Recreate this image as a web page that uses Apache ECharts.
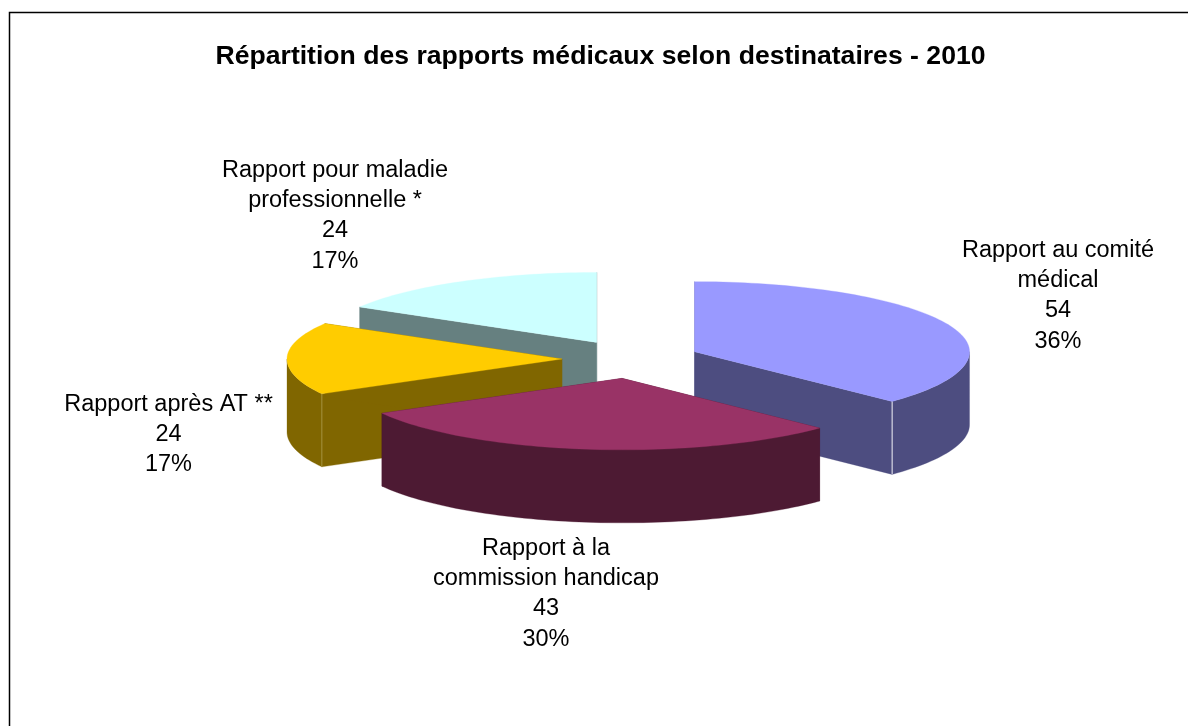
<!DOCTYPE html>
<html>
<head>
<meta charset="utf-8">
<style>html,body{margin:0;padding:0;background:#fff}#chart{width:1188px;height:726px}</style>
<script src="https://cdn.jsdelivr.net/npm/echarts@6/dist/echarts.min.js"></script>
</head>
<body>
<div id="chart"></div>
<script>
// Data
const categories = ['Rapport au comité\nmédical', 'Rapport à la\ncommission handicap', 'Rapport après AT **', 'Rapport pour maladie\nprofessionnelle *'];
const values = [54, 43, 24, 24];
const percentLabels = ['36%', '30%', '17%', '17%'];
const titleText = 'Répartition des rapports médicaux selon destinataires - 2010';

// Style
const topColors = ['#9999ff', '#993366', '#ffcc00', '#ccffff'];
const wallColors = ['#4d4d80', '#4d1a33', '#806600', '#668080'];
const seamColors = ['#f0f0f6', null, '#a3903a', null];
const labelAnchors = [[1058, 235], [546, 533], [168.5, 389], [335, 155]];

// Projection of the exploded pie
const cx = 631, cy = 359.2, rx = 275, ryBack = 70, ryFront = 71.5, depth = 73, explode = 69, explodeSquash = 0.28;
const total = values.reduce((a, b) => a + b, 0);
const DEG = Math.PI / 180;
let acc = 0;
const slices = values.map((v, i) => {
  const start = acc / total * 360; acc += v; const end = acc / total * 360;
  const mid = (start + end) / 2 * DEG;
  return { index: i, value: v, start, end,
    ox: cx + explode * Math.sin(mid), oy: cy - explode * explodeSquash * Math.cos(mid) };
});
const drawOrder = slices.slice().sort((a, b) => a.oy - b.oy);

function rimPoint(s, deg, drop) {
  const c = Math.cos(deg * DEG);
  return [s.ox + rx * Math.sin(deg * DEG), s.oy - (c < 0 ? ryFront : ryBack) * c + drop];
}
function arc(s, a, b, drop) {
  const n = Math.max(2, Math.ceil(Math.abs(b - a) / 1.5)), pts = [];
  for (let k = 0; k <= n; k++) pts.push(rimPoint(s, a + (b - a) * k / n, drop));
  return pts;
}
function poly(points, fill) {
  return { type: 'polygon', shape: { points }, style: { fill, stroke: fill, lineWidth: 0.3 }, silent: true };
}
function renderSlice(params, api) {
  const s = drawOrder[params.dataIndex];
  const wall = wallColors[s.index];
  const kids = [];
  const apex = [s.ox, s.oy], apexLow = [s.ox, s.oy + depth];
  // radial cut faces
  [s.start, s.end].forEach(a => {
    kids.push(poly([apex, rimPoint(s, a, 0), rimPoint(s, a, depth), apexLow], wall));
  });
  // outer wall: the front half of the rim only
  const a0 = Math.max(s.start, 90), a1 = Math.min(s.end, 270);
  if (a1 > a0) {
    kids.push(poly(arc(s, a0, a1, 0).concat(arc(s, a1, a0, depth)), wall));
    const seam = seamColors[s.index];
    if (seam) {
      const at = s.end < 180 ? s.end : s.start;
      const p = rimPoint(s, at, 0), q = rimPoint(s, at, depth);
      kids.push({ type: 'line', shape: { x1: p[0], y1: p[1], x2: q[0], y2: q[1] },
        style: { stroke: seam, lineWidth: 1 }, silent: true });
    }
  }
  // top face
  kids.push(poly([apex].concat(arc(s, s.start, s.end, 0)), topColors[s.index]));
  return { type: 'group', children: kids };
}
function renderLabel(params, api) {
  const i = params.dataIndex;
  return { type: 'text', silent: true,
    style: { text: categories[i] + '\n' + values[i] + '\n' + percentLabels[i],
      x: labelAnchors[i][0], y: labelAnchors[i][1], align: 'center', verticalAlign: 'top',
      fill: '#000', font: '23.5px "Liberation Sans"', lineHeight: 30.3 } };
}

const chart = echarts.init(document.getElementById('chart'), null, { renderer: 'canvas' });
chart.setOption({
  animation: false,
  backgroundColor: '#ffffff',
  title: { text: titleText, left: 595.5, top: 38, textAlign: 'center',
    textStyle: { fontFamily: 'Liberation Sans', fontSize: 26.6, fontWeight: 'bold', color: '#000' } },
  graphic: [{ type: 'polyline', silent: true,
    shape: { points: [[9.5, 726], [9.5, 12.5], [1188, 12.5]] },
    style: { fill: 'none', stroke: '#000', lineWidth: 1.5 } }],
  series: [
    { type: 'custom', coordinateSystem: 'none', renderItem: renderSlice,
      data: drawOrder.map(s => [s.value]), silent: true },
    { type: 'custom', coordinateSystem: 'none', renderItem: renderLabel,
      data: values.map(v => [v]), silent: true }
  ]
});
</script>
</body>
</html>
